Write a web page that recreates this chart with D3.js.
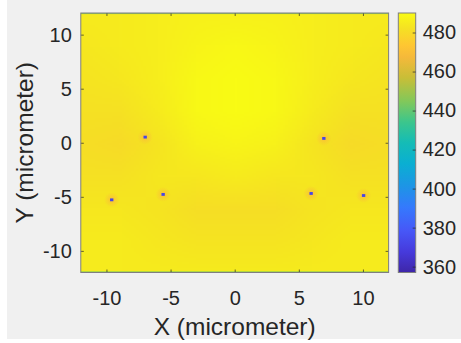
<!DOCTYPE html>
<html>
<head>
<meta charset="utf-8">
<script src="https://cdn.jsdelivr.net/npm/d3@7"></script>
<style>
  body { margin: 0; background: #fff; }
  text { font-family: "Liberation Sans", Arial, Helvetica, sans-serif; fill: #262626; }
</style>
</head>
<body>
<svg id="chart" width="461" height="343"></svg>
<script>
// background field (rows from y=12 down to y=-12)
var gridX = [-12, -9, -6, -3, 0, 3, 6, 9, 12];
var gridY = [12, 9, 6, 3, 0, -3, -6, -9, -12];
var gridVals = [
  [485, 485, 486, 487, 487, 487, 486, 485, 485],
  [484, 485, 486, 488, 489, 488, 486, 485, 484],
  [483, 484, 486, 489, 490, 489, 486, 484, 483],
  [482, 482, 485, 489, 490, 489, 485, 482, 482],
  [481, 480, 483, 487, 488, 487, 483, 480, 481],
  [482, 482, 484, 484, 485, 484, 484, 482, 482],
  [484, 484, 483, 481, 481, 481, 483, 484, 484],
  [485, 485, 484, 483, 483, 483, 484, 485, 485],
  [485, 485, 485, 485, 485, 485, 485, 485, 485]
];

// point sources (the blue dots) and the orange halo round each
var sourceX = [-6.98, -9.59, -5.58, 6.95, 5.96, 10.05];
var sourceY = [0.52, -5.28, -4.78, 0.40, -4.69, -4.88];
var sourceVal = [372, 372, 372, 372, 372, 372];
var haloVal = [470, 470, 470, 470, 470, 470];

// thin rows at the top and bottom edge of the field
var edgeVal = [447, 445];

var xTicks = [-10, -5, 0, 5, 10];
var yTicks = [-10, -5, 0, 5, 10];
var cTicks = [360, 380, 400, 420, 440, 460, 480];
var cLim = [357, 490];

// parula-like colormap
var parulaT = [0, 0.08, 0.16, 0.25, 0.33, 0.42, 0.5, 0.58, 0.66, 0.75, 0.83, 0.875, 0.94, 1];
var parulaC = ["#3e26a8", "#463adc", "#4757f7", "#3579fd", "#1e94e6", "#0aafd2", "#14bcb6",
               "#3cc68c", "#82c85a", "#c8be37", "#f5b93a", "#fec632", "#f5e123", "#f9fb14"];
var parula = d3.scaleLinear().domain(parulaT).range(parulaC).interpolate(d3.interpolateRgb).clamp(true);
var cNorm = d3.scaleLinear().domain(cLim).range([0, 1]).clamp(true);
var colorOf = function(v) { return parula(cNorm(v)); };
var fmt = function(d) { return String(d); }; // plain hyphen minus, like the original

var svg = d3.select('#chart');

// figure background
svg.append('rect').attr('x', 7).attr('y', 0).attr('width', 454).attr('height', 339).attr('fill', '#f0f0f0');

var x = d3.scaleLinear().domain([-12, 12]).range([80.8, 388.6]);
var y = d3.scaleLinear().domain([-12, 12]).range([272.5, 13]);

var plotL = x(-12), plotR = x(12), plotT = y(12), plotB = y(-12);

var defs = svg.append('defs');
defs.append('clipPath').attr('id', 'plotClip')
  .append('rect').attr('x', plotL).attr('y', plotT).attr('width', plotR - plotL).attr('height', plotB - plotT);

// field as a small image, smoothed by the browser when scaled up
var cv = document.createElement('canvas');
cv.width = gridX.length; cv.height = gridY.length;
var ctx = cv.getContext('2d');
var img = ctx.createImageData(cv.width, cv.height);
gridVals.forEach(function(row, r) {
  row.forEach(function(v, c) {
    var col = d3.rgb(colorOf(v));
    var i = (r * cv.width + c) * 4;
    img.data[i] = col.r; img.data[i + 1] = col.g; img.data[i + 2] = col.b; img.data[i + 3] = 255;
  });
});
ctx.putImageData(img, 0, 0);

var stepX = gridX[1] - gridX[0], stepY = gridY[0] - gridY[1];
var field = svg.append('g').attr('clip-path', 'url(#plotClip)');
field.append('image')
  .attr('href', cv.toDataURL())
  .attr('x', x(gridX[0] - stepX / 2))
  .attr('y', y(gridY[0] + stepY / 2))
  .attr('width', x(gridX[gridX.length - 1] + stepX / 2) - x(gridX[0] - stepX / 2))
  .attr('height', y(gridY[gridY.length - 1] - stepY / 2) - y(gridY[0] + stepY / 2))
  .attr('preserveAspectRatio', 'none');

// halos
sourceX.forEach(function(sx, i) {
  var g = defs.append('radialGradient').attr('id', 'halo' + i);
  g.append('stop').attr('offset', '0%').attr('stop-color', colorOf(haloVal[i])).attr('stop-opacity', 1);
  g.append('stop').attr('offset', '35%').attr('stop-color', colorOf(haloVal[i])).attr('stop-opacity', 0.6);
  g.append('stop').attr('offset', '100%').attr('stop-color', colorOf(haloVal[i])).attr('stop-opacity', 0);
});
field.selectAll('ellipse.halo').data(sourceX).enter().append('ellipse')
  .attr('class', 'halo')
  .attr('cx', function(d) { return x(d); })
  .attr('cy', function(d, i) { return y(sourceY[i]); })
  .attr('rx', x(0.6) - x(0))
  .attr('ry', y(0) - y(0.7))
  .attr('fill', function(d, i) { return 'url(#halo' + i + ')'; });

// dots
field.selectAll('rect.src').data(sourceX).enter().append('rect')
  .attr('class', 'src')
  .attr('x', function(d) { return x(d - 0.13); })
  .attr('y', function(d, i) { return y(sourceY[i] + 0.13); })
  .attr('width', x(0.26) - x(0))
  .attr('height', y(0) - y(0.26))
  .attr('fill', function(d, i) { return colorOf(sourceVal[i]); });

// edge rows
field.append('rect').attr('x', plotL).attr('y', y(12))
  .attr('width', plotR - plotL).attr('height', y(11.9) - y(12))
  .attr('fill', colorOf(edgeVal[0]));
field.append('rect').attr('x', plotL).attr('y', y(-11.9))
  .attr('width', plotR - plotL).attr('height', y(-12) - y(-11.9))
  .attr('fill', colorOf(edgeVal[1]));

// axes
var fs = '20px';
var styleAxis = function(g) {
  g.select('.domain').remove();
  g.selectAll('.tick line').attr('stroke', '#262626').attr('stroke-width', 0.7);
  g.selectAll('.tick text').style('font-size', fs).attr('fill', '#262626');
};

svg.append('g').attr('transform', 'translate(0,' + plotB + ')')
  .call(d3.axisBottom(x).tickValues(xTicks).tickSize(-3).tickPadding(18).tickFormat(fmt))
  .call(styleAxis);
svg.append('g').attr('transform', 'translate(0,' + plotT + ')')
  .call(d3.axisTop(x).tickValues(xTicks).tickSize(-3).tickFormat(''))
  .call(styleAxis);
svg.append('g').attr('transform', 'translate(' + plotL + ',0)')
  .call(d3.axisLeft(y).tickValues(yTicks).tickSize(-3).tickPadding(9).tickFormat(fmt))
  .call(styleAxis);
svg.append('g').attr('transform', 'translate(' + plotR + ',0)')
  .call(d3.axisRight(y).tickValues(yTicks).tickSize(-3).tickFormat(''))
  .call(styleAxis);

// box
svg.append('rect')
  .attr('x', plotL).attr('y', plotT).attr('width', plotR - plotL).attr('height', plotB - plotT)
  .attr('fill', 'none').attr('stroke', '#7f7f7f').attr('stroke-width', 1);

// axis labels
svg.append('text')
  .attr('x', x(0)).attr('y', 334.5)
  .attr('text-anchor', 'middle').style('font-size', '24.5px')
  .text('X (micrometer)');
svg.append('text')
  .attr('transform', 'translate(33,' + y(0) + ') rotate(-90)')
  .attr('text-anchor', 'middle').style('font-size', '24.5px')
  .text('Y (micrometer)');

// colorbar
var cbL = 398.3, cbR = 415.7;
var c = d3.scaleLinear().domain(cLim).range([plotB, plotT]);
var cg = defs.append('linearGradient').attr('id', 'cbGrad')
  .attr('x1', 0).attr('y1', 1).attr('x2', 0).attr('y2', 0);
cg.selectAll('stop').data(parulaT).enter().append('stop')
  .attr('offset', function(d) { return (d * 100) + '%'; })
  .attr('stop-color', function(d, i) { return parulaC[i]; });
svg.append('rect')
  .attr('x', cbL).attr('y', c(cLim[1])).attr('width', cbR - cbL).attr('height', c(cLim[0]) - c(cLim[1]))
  .attr('fill', 'url(#cbGrad)').attr('stroke', '#7f7f7f').attr('stroke-width', 1);
svg.append('g').attr('transform', 'translate(' + cbR + ',0)')
  .call(d3.axisRight(c).tickValues(cTicks).tickSize(-3).tickPadding(7).tickFormat(fmt))
  .call(styleAxis);
</script>
</body>
</html>
